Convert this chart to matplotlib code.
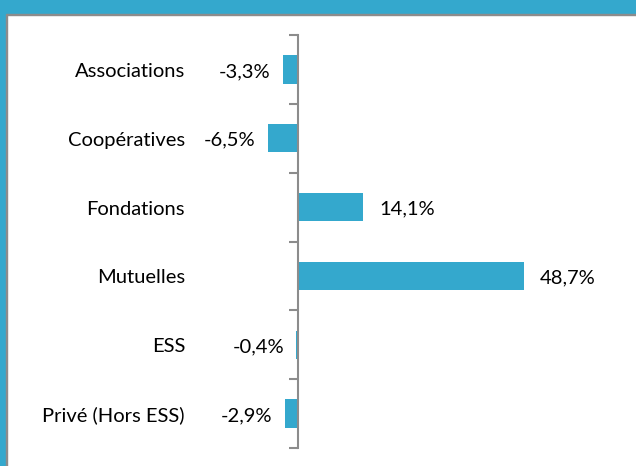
import matplotlib.pyplot as plt
from matplotlib.patches import Rectangle
import matplotlib.transforms as mtransforms

categories = ['Associations', 'Coopératives', 'Fondations', 'Mutuelles', 'ESS', 'Privé (Hors ESS)']
values = [-3.3, -6.5, 14.1, 48.7, -0.4, -2.9]
labels = ['-3,3%', '-6,5%', '14,1%', '48,7%', '-0,4%', '-2,9%']

blue = '#34A8CD'
grey = '#8C8C8C'

plt.rcParams['font.family'] = ['Lato', 'DejaVu Sans']

W, H = 636, 466
fig = plt.figure(figsize=(W / 100, H / 100), dpi=100)
fig.patch.set_facecolor('white')

# blue frame (top and left), with a thin grey edge
fig.patches.append(Rectangle((0, 1 - 14 / H), 1, 14 / H, transform=fig.transFigure, color=blue, zorder=0))
fig.patches.append(Rectangle((0, 1 - 15 / H), 1, 1.2 / H, transform=fig.transFigure, color=grey, zorder=0))
fig.patches.append(Rectangle((0, 0), 6 / W, 1, transform=fig.transFigure, color=blue, zorder=0))
fig.patches.append(Rectangle((6 / W, 0), 1.2 / W, 1 - 14 / H, transform=fig.transFigure, color=grey, zorder=0))

# x scale: zero at 298px, 4.64 px per percent
xmin, xmax = -10, 60
px = 4.64
left = 298 - (0 - xmin) * px
width = (xmax - xmin) * px
top, bottom = 35, 448
ax = fig.add_axes([left / W, (H - bottom) / H, width / W, (bottom - top) / H])
ax.set_xlim(xmin, xmax)
ax.set_ylim(len(categories) - 0.5, -0.5)

y = list(range(len(categories)))
ax.barh(y, values, height=0.41, color=blue, zorder=2)

for s in ['top', 'right', 'bottom']:
    ax.spines[s].set_visible(False)
ax.spines['left'].set_position(('data', 0))
ax.spines['left'].set_color(grey)
ax.spines['left'].set_linewidth(1.5)
ax.set_xticks([])
ax.set_yticks([i - 0.5 for i in range(len(categories) + 1)])
ax.set_yticklabels([])
ax.tick_params(axis='y', direction='out', length=6.5, width=1.5, color=grey)

fs = 14.5
dy = 0.03  # text sits a touch below bar centre
trans = mtransforms.blended_transform_factory(fig.transFigure, ax.transData)
for i, c in enumerate(categories):
    ax.text(185 / W, i + dy, c, transform=trans, ha='right', va='center', fontsize=fs, color='black')

for i, (v, lab) in enumerate(zip(values, labels)):
    if v < 0:
        ax.text(v - 2.6, i + dy, lab, ha='right', va='center', fontsize=fs, color='black')
    else:
        ax.text(v + 3.4, i + dy, lab, ha='left', va='center', fontsize=fs, color='black')

fig.savefig('out.png', dpi=100)
